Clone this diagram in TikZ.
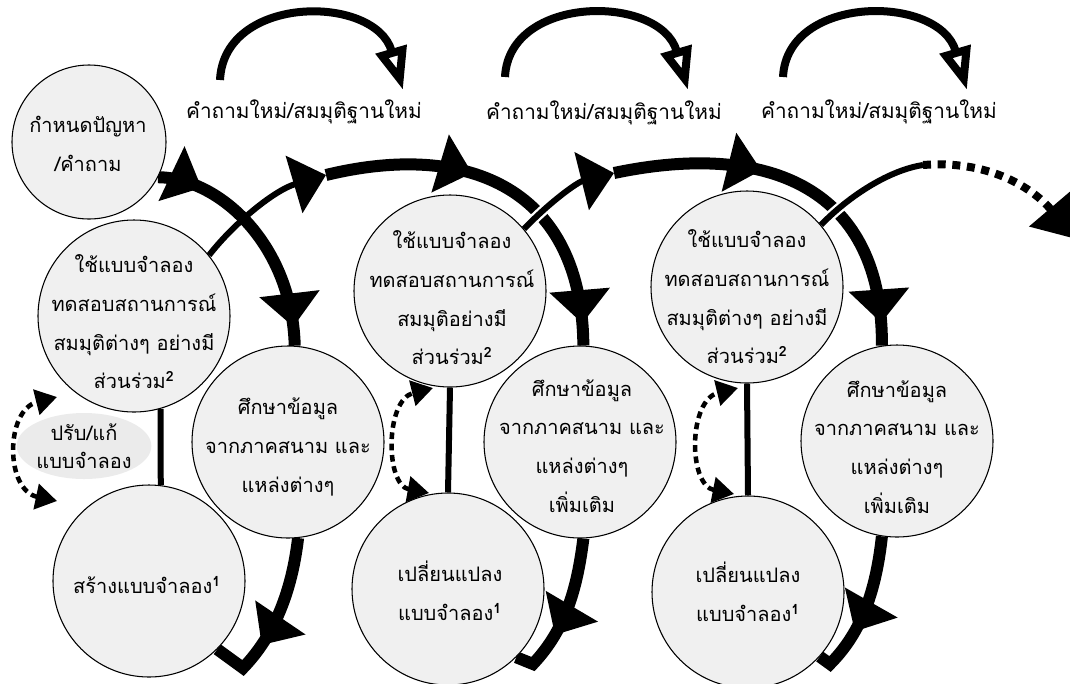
\documentclass[tikz,border=0pt]{standalone}
\usepackage{fontspec}
\newfontfamily\thaifont[Script=Thai]{Loma}
\usetikzlibrary{arrows.meta,decorations.markings,backgrounds,shapes.geometric}

\tikzset{
  bigtip/.tip={Triangle[width=44pt,length=25pt]},
  smalltip/.tip={Triangle[width=19pt,length=16pt]},
  opentip/.tip={Triangle[open,width=23pt,length=32pt]},
  stage/.style={circle,draw=black,line width=0.8pt,fill=black!6,inner sep=0pt,
    minimum size=144pt},
  words/.style={inner sep=0pt,align=center},
  heavy/.style={line width=9pt},
  light/.style={line width=4.5pt},
  haloed/.style={preaction={draw=white,line width=8pt}},
  flowmarks/.style 2 args={postaction={decorate},decoration={markings,
    mark=at position #1 with {\arrow{bigtip}},
    mark=at position #2 with {\arrow{bigtip}}}},
  flowmark/.style={postaction={decorate},decoration={markings,
    mark=at position #1 with {\arrow{bigtip}}}},
  revise/.style={line width=3.4pt,dash pattern=on 5pt off 3.5pt,{smalltip}-{smalltip}},
  hop/.style={line width=6pt,-{opentip}},
  onward/.style={line width=6pt,dash pattern=on 6pt off 5pt,
    -{Triangle[width=40pt,length=30pt]}},
  caption/.style={inner sep=0pt,font=\thaifont\fontsize{15.6}{20}\selectfont},
  note/.style={ellipse,fill=black!8,inner sep=0pt,minimum width=91.5pt,
    minimum height=49.5pt,align=center,font=\thaifont\fontsize{15}{21}\selectfont}
}

\begin{document}
\begin{tikzpicture}[x=0.75pt,y=-0.75pt,font=\thaifont\fontsize{15}{29}\selectfont]
\useasboundingbox (0,0) rectangle (1070,683);

% stages of the modelling cycle
\node[stage,minimum size=115.5pt] (c1) at (89,142) {};
\node[stage] (c2) at (134,316) {};
\node[stage] (c3) at (149,581) {};
\node[stage] (c4) at (288,442) {};
\node[stage] (c5) at (450,291) {};
\node[stage] (c6) at (448,589) {};
\node[stage] (c7) at (580,442) {};
\node[stage] (c8) at (747,287) {};
\node[stage] (c9) at (748,592) {};
\node[stage] (c10) at (897,441) {};

\node[words] (t1) at (88,144) {กำหนดปัญหา\\/คำถาม};
\node[words] (t2) at (134,322) {ใช้แบบจำลอง\\ทดสอบสถานการณ์\\สมมุติต่างๆ อย่างมี\\ส่วนร่วม\textsuperscript{\bfseries 2}};
\node[words] (t3) at (147,585) {สร้างแบบจำลอง\textsuperscript{\bfseries 1}};
\node[words] (t4) at (288,447) {ศึกษาข้อมูล\\จากภาคสนาม และ\\แหล่งต่างๆ};
\node[words] (t5) at (452,298) {ใช้แบบจำลอง\\ทดสอบสถานการณ์\\สมมุติอย่างมี\\ส่วนร่วม\textsuperscript{\bfseries 2}};
\node[words] (t6) at (450,591) {เปลี่ยนแปลง\\แบบจำลอง\textsuperscript{\bfseries 1}};
\node[words] (t7) at (582,446) {ศึกษาข้อมูล\\จากภาคสนาม และ\\แหล่งต่างๆ\\เพิ่มเติม};
\node[words] (t8) at (747,297) {ใช้แบบจำลอง\\ทดสอบสถานการณ์\\สมมุติต่างๆ อย่างมี\\ส่วนร่วม\textsuperscript{\bfseries 2}};
\node[words] (t9) at (748,592) {เปลี่ยนแปลง\\แบบจำลอง\textsuperscript{\bfseries 1}};
\node[words] (t10) at (897,447) {ศึกษาข้อมูล\\จากภาคสนาม และ\\แหล่งต่างๆ\\เพิ่มเติม};

\node[note] (fix) at (84,446) {ปรับ/แก้\\แบบจำลอง};

% new questions / hypotheses
\node[caption] (q1) at (304,112) {คำถามใหม่/สมมุติฐานใหม่};
\node[caption] (q2) at (604,113) {คำถามใหม่/สมมุติฐานใหม่};
\node[caption] (q3) at (879,112) {คำถามใหม่/สมมุติฐานใหม่};

\coordinate (h1a) at (220,80);  \coordinate (h1b) at (403,90);
\coordinate (h2a) at (505,77);  \coordinate (h2b) at (688,90);
\coordinate (h3a) at (783,77);  \coordinate (h3b) at (967,90);
\draw[hop] (h1a) .. controls (224,-6) and (375,-6) .. (h1b);
\draw[hop] (h2a) .. controls (509,-6) and (660,-6) .. (h2b);
\draw[hop] (h3a) .. controls (787,-6) and (939,-6) .. (h3b);

% junctions where the light strokes join the heavy loops
\coordinate (p1) at (326,175);
\coordinate (p2) at (614,173);
\coordinate (p3) at (923,165);
\coordinate (p4) at (1076,239);

% ends of the revision loops
\coordinate (r1t) at (57,397);  \coordinate (r1b) at (57,501);
\coordinate (r2t) at (433,388); \coordinate (r2b) at (429,493);
\coordinate (r3t) at (738,388); \coordinate (r3b) at (734,494);

\begin{scope}[on background layer]
  % first loop
  \draw[heavy,flowmarks={0.19}{0.92}] (c1.-27) .. controls (220,178) and (292,245) .. (c4.86);
  \draw[heavy,flowmark=0.65] (c4.-84) .. controls (292,590) and (275,635) .. (243,668) -- (c3.-45);
  \draw[light] (c2.-74) -- (c3.83);
  \draw[revise] (r1b) .. controls (5,490) and (5,410) .. (r1t);

  % second loop
  \draw[light,-{bigtip}] (c2.39) .. controls (235,222) and (275,190) .. (p1);
  \draw[heavy,flowmarks={0.4}{0.94}] (p1) .. controls (470,140) and (582,190) .. (c7.88);
  \draw[heavy,flowmark=0.65] (c7.-88) .. controls (577,590) and (565,630) .. (533,664) -- (c6.-45);
  \draw[light] (c5.south) -- (c6.north);
  \draw[revise] (r2b) .. controls (385,485) and (385,400) .. (r2t);

  % third loop
  \draw[light,haloed,-{bigtip}] (c5.40) .. controls (552,200) and (578,182) .. (p2);
  \draw[heavy,flowmarks={0.39}{0.94}] (p2) .. controls (771,140) and (883,190) .. (c10.99);
  \draw[heavy,flowmark=0.65] (c10.-99) .. controls (876,590) and (862,632) .. (830,664) -- (c9.-42);
  \draw[light] (c8.south) -- (c9.north);
  \draw[revise] (r3b) .. controls (688,485) and (688,400) .. (r3t);

  % continuing onward
  \draw[light,haloed] (c8.40) .. controls (850,195) and (890,170) .. (p3);
  \draw[onward] (p3) .. controls (985,160) and (1030,185) .. (p4);
\end{scope}
\end{tikzpicture}
\end{document}
